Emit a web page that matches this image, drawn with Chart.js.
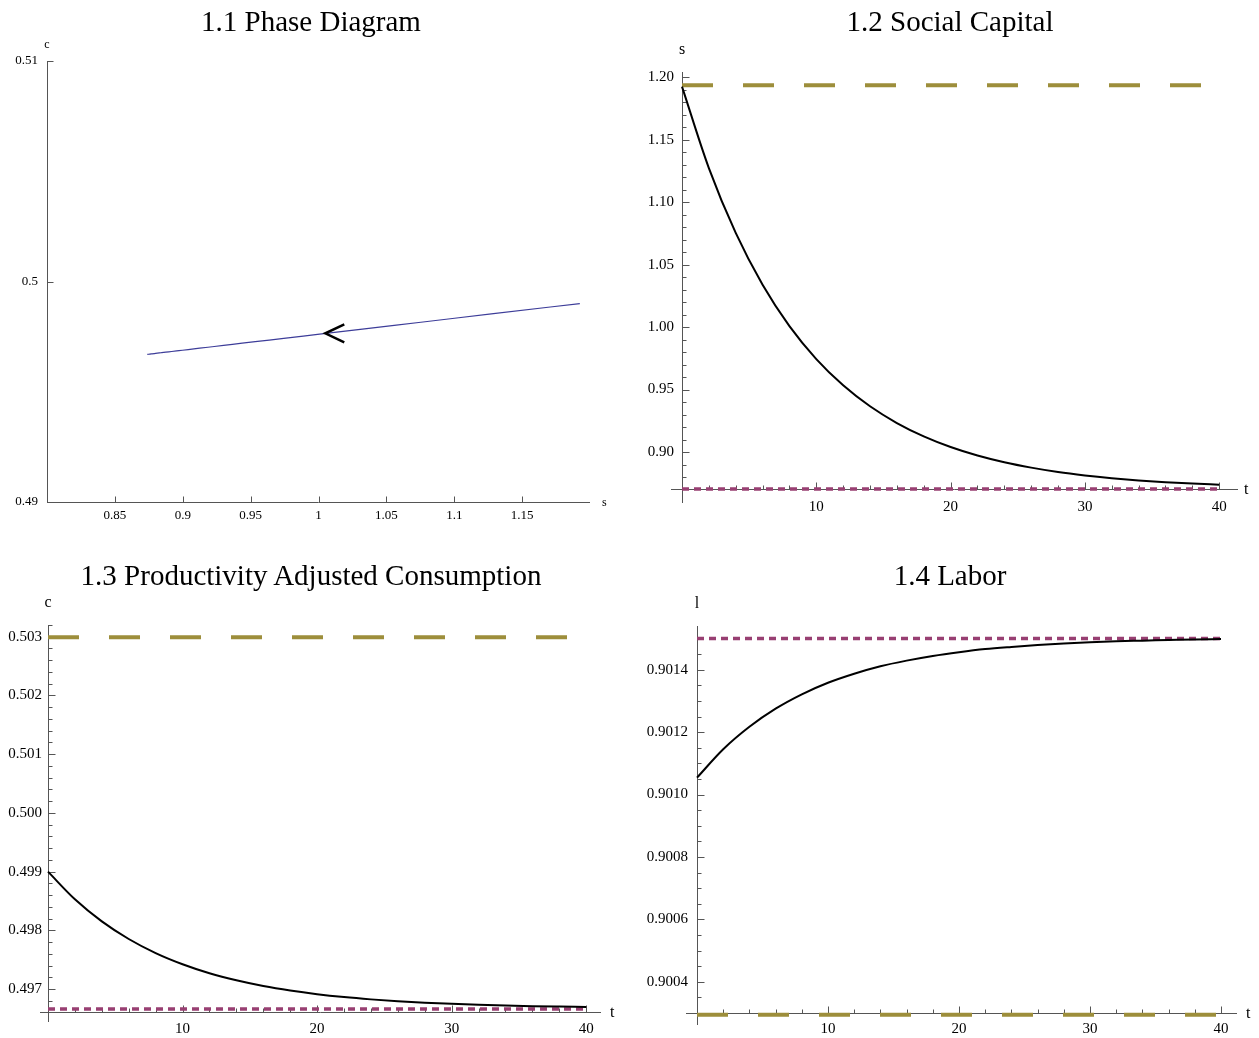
<!DOCTYPE html>
<html>
<head>
<meta charset="utf-8">
<script src="https://cdn.jsdelivr.net/npm/chart.js@4.4.1/dist/chart.umd.min.js"></script>
<style>
  body { margin: 0; background: #fff; width: 1259px; height: 1038px; position: relative; overflow: hidden; }
  .panel { position: absolute; }
  .title {
    position: absolute; width: 600px; text-align: center; white-space: nowrap;
    font-family: 'Liberation Serif', 'Times New Roman', serif; font-size: 29px; line-height: 34px; color: #000;
  }
</style>
</head>
<body>
<div class="panel" id="p1"><canvas id="phase"></canvas></div>
<div class="panel" id="p2"><canvas id="capital"></canvas></div>
<div class="panel" id="p3"><canvas id="consumption"></canvas></div>
<div class="panel" id="p4"><canvas id="labor"></canvas></div>
<script>
// DATA

const times = [0, 2, 4, 6, 8, 10, 12, 14, 16, 18, 20, 22, 24, 26, 28, 30, 32, 34, 36, 38, 40];
const socialCapital = [1.1925, 1.1273, 1.0754, 1.0339, 1.0008, 0.9744, 0.9534, 0.9366, 0.9232, 0.9125, 0.9040,
  0.8972, 0.8918, 0.8875, 0.8840, 0.8813, 0.8791, 0.8773, 0.8759, 0.8748, 0.8739];
const consumption = [0.49900, 0.498529, 0.498153, 0.497853, 0.497613, 0.497423, 0.497270, 0.497149, 0.497052,
  0.496975, 0.496913, 0.496864, 0.496825, 0.496793, 0.496768, 0.496749, 0.496733, 0.496720, 0.496710, 0.496702, 0.496695];
const labor = [0.901054, 0.901145, 0.901217, 0.901275, 0.901321, 0.901358, 0.901387, 0.901411, 0.901429, 0.901444,
  0.901456, 0.901466, 0.901473, 0.901479, 0.901484, 0.901488, 0.901491, 0.901493, 0.901495, 0.901497, 0.901498];

// horizontal reference lines (start / steady state levels)
const refTimes = [0, 40];
const capitalLevels = [1.1936, 0.8704];
const consumptionLevels = [0.50299, 0.49666];
const laborLevels = [0.900294, 0.90150];

// where the arrow sits on the phase path
const phaseArrow = [1.005, 0.49765];

// tick labels
const phaseSTicks = [0.85, 0.9, 0.95, 1, 1.05, 1.1, 1.15];
const phaseCTicks = [0.49, 0.5, 0.51];
const timeTicks = [10, 20, 30, 40];
const capitalTicks = [0.90, 0.95, 1.00, 1.05, 1.10, 1.15, 1.20];
const consumptionTicks = [0.497, 0.498, 0.499, 0.500, 0.501, 0.502, 0.503];
const laborTicks = [0.9004, 0.9006, 0.9008, 0.9010, 0.9012, 0.9014];

// STYLE

const FONT = "'Liberation Serif', 'Times New Roman', serif";
const AXIS_COLOR = '#555';
const GOLD = '#9d8e3b';
const PURPLE = '#983f72';
const X_H = 45;
const Y_W = 60;

Chart.defaults.font.family = FONT;
Chart.defaults.color = '#000';

const levelLine = (level, color, dash, width) => ({
  data: refTimes.map((t) => ({ x: t, y: level })),
  borderColor: color,
  borderWidth: width,
  borderDash: dash,
  borderCapStyle: 'butt',
  showLine: true,
  pointRadius: 0,
  clip: 8,
});

const curve = (xs, ys, color, width) => ({
  data: xs.map((x, i) => ({ x, y: ys[i] })),
  borderColor: color,
  borderWidth: width,
  showLine: true,
  pointRadius: 0,
  cubicInterpolationMode: 'monotone',
  clip: 4,
});

// Mathematica-style axes: lines through the origin, inward ticks, letters at the ends

const mathAxes = {
  id: 'mathAxes',
  beforeDatasetsDraw(chart, args, opts) {
    const { ctx, chartArea: a, scales } = chart;
    const x = scales.x;
    const y = scales.y;
    const ax = Math.round(a.left) + 0.5;
    const ay = Math.round(a.bottom) + 0.5;
    ctx.save();
    ctx.strokeStyle = AXIS_COLOR;
    ctx.lineWidth = 1;
    ctx.beginPath();
    ctx.moveTo(a.left - opts.xExtend, ay);
    ctx.lineTo(a.right, ay);
    ctx.moveTo(ax, a.top);
    ctx.lineTo(ax, a.bottom + opts.yExtend);
    ctx.stroke();

    const drawTicks = (scale, minorCount, mark) => {
      const majors = scale.ticks.map((t) => t.value);
      majors.forEach((v) => mark(scale.getPixelForValue(v), opts.majorLen));
      if (!minorCount) return;
      const step = majors[1] - majors[0];
      const minorStep = step / (minorCount + 1);
      for (let k = Math.ceil(scale.min / minorStep - 1e-9); k * minorStep <= scale.max + 1e-12; k++) {
        const v = k * minorStep;
        const r = v / step;
        if (Math.abs(r - Math.round(r)) < 1e-6) continue;
        mark(scale.getPixelForValue(v), opts.minorLen);
      }
    };

    ctx.beginPath();
    drawTicks(x, opts.xMinor, (p, len) => {
      const px = Math.round(p) + 0.5;
      ctx.moveTo(px, ay);
      ctx.lineTo(px, ay - len);
    });
    drawTicks(y, opts.yMinor, (p, len) => {
      const py = Math.round(p) + 0.5;
      ctx.moveTo(ax, py);
      ctx.lineTo(ax + len, py);
    });
    ctx.stroke();

    ctx.fillStyle = '#000';
    ctx.font = opts.letterSize + 'px ' + FONT;
    ctx.textAlign = 'center';
    ctx.textBaseline = 'middle';
    ctx.fillText(opts.yLetter, a.left, a.top - opts.yLetterGap);
    ctx.textAlign = 'left';
    ctx.fillText(opts.xLetter, a.right + opts.xLetterGap, a.bottom + 1);
    ctx.restore();
  },
  afterDatasetsDraw(chart, args, opts) {
    if (!opts.arrow) return;
    const { ctx, scales } = chart;
    const px = scales.x.getPixelForValue(opts.arrow[0]);
    const py = scales.y.getPixelForValue(opts.arrow[1]);
    ctx.save();
    ctx.strokeStyle = '#000';
    ctx.lineWidth = 2.5;
    ctx.lineJoin = 'miter';
    ctx.beginPath();
    ctx.moveTo(px + 19, py - 9);
    ctx.lineTo(px, py);
    ctx.lineTo(px + 19, py + 9);
    ctx.stroke();
    ctx.restore();
  },
};

const addTitle = (text, cx, cy) => {
  const el = document.createElement('div');
  el.className = 'title';
  el.textContent = text;
  el.style.left = (cx - 300) + 'px';
  el.style.top = (cy - 18) + 'px';
  document.body.appendChild(el);
};

// box: canvas rectangle on the page, area: wanted plot rectangle on the page
const makePanel = (canvasId, divId, box, area, cfg) => {
  const div = document.getElementById(divId);
  div.style.left = box.left + 'px';
  div.style.top = box.top + 'px';
  const canvas = document.getElementById(canvasId);
  canvas.width = box.width;
  canvas.height = box.height;

  const padding = {
    left: area.left - box.left - Y_W,
    right: box.left + box.width - area.right,
    top: area.top - box.top,
    bottom: box.top + box.height - area.bottom - X_H,
  };

  return new Chart(canvas, {
    type: 'scatter',
    data: { datasets: cfg.datasets },
    options: {
      responsive: false,
      animation: false,
      devicePixelRatio: 1,
      layout: { padding },
      plugins: {
        legend: { display: false },
        tooltip: { enabled: false },
        title: { display: false },
        mathAxes: cfg.axes,
      },
      scales: {
        x: {
          type: 'linear',
          min: cfg.xRange[0],
          max: cfg.xRange[1],
          grid: { display: false, drawTicks: false },
          border: { display: false },
          afterFit: (s) => { s.height = X_H; },
          afterBuildTicks: (s) => { s.ticks = cfg.xTicks.map((v) => ({ value: v })); },
          ticks: {
            autoSkip: false,
            maxRotation: 0,
            padding: cfg.xPad,
            font: { size: cfg.fontSize },
            callback: (v) => cfg.xFormat(v),
          },
        },
        y: {
          type: 'linear',
          min: cfg.yRange[0],
          max: cfg.yRange[1],
          grid: { display: false, drawTicks: false },
          border: { display: false },
          afterFit: (s) => { s.width = Y_W; },
          afterBuildTicks: (s) => { s.ticks = cfg.yTicks.map((v) => ({ value: v })); },
          ticks: {
            autoSkip: false,
            padding: cfg.yPad,
            font: { size: cfg.fontSize },
            callback: (v) => cfg.yFormat(v),
          },
        },
      },
    },
    plugins: [mathAxes],
  });
};

const plain = (v) => String(v);
const fixed = (n) => (v) => Number(v).toFixed(n);

// 1.1 PHASE DIAGRAM

addTitle('1.1 Phase Diagram', 311, 22);
makePanel('phase', 'p1',
  { left: -20, top: 0, width: 650, height: 560 },
  { left: 47, top: 61, right: 590, bottom: 502 }, {
    datasets: [curve(socialCapital, consumption, '#3d3d99', 1.2)],
    xRange: [0.8, 1.2], yRange: [0.49, 0.51],
    xTicks: phaseSTicks, yTicks: phaseCTicks,
    xFormat: plain, yFormat: plain,
    fontSize: 13, xPad: 6, yPad: 9,
    axes: { xExtend: 0, yExtend: 0, xMinor: 0, yMinor: 0, majorLen: 6, minorLen: 0,
      xLetter: 's', yLetter: 'c', letterSize: 12, xLetterGap: 12, yLetterGap: 16, arrow: phaseArrow },
  });

// 1.2 SOCIAL CAPITAL

addTitle('1.2 Social Capital', 950, 22);
makePanel('capital', 'p2',
  { left: 610, top: 0, width: 649, height: 560 },
  { left: 682, top: 72, right: 1238, bottom: 489 }, {
    datasets: [
      curve(times, socialCapital, '#000', 2),
      levelLine(capitalLevels[1], PURPLE, [7, 5], 3.5),
      levelLine(capitalLevels[0], GOLD, [31, 30], 4),
    ],
    xRange: [0, 41.4], yRange: [0.8704, 1.2042],
    xTicks: timeTicks, yTicks: capitalTicks,
    xFormat: plain, yFormat: fixed(2),
    fontSize: 15, xPad: 9, yPad: 8,
    axes: { xExtend: 11, yExtend: 14, xMinor: 4, yMinor: 4, majorLen: 7, minorLen: 4,
      xLetter: 't', yLetter: 's', letterSize: 16, xLetterGap: 6, yLetterGap: 22 },
  });

// 1.3 PRODUCTIVITY ADJUSTED CONSUMPTION

addTitle('1.3 Productivity Adjusted Consumption', 311, 576);
makePanel('consumption', 'p3',
  { left: -20, top: 540, width: 650, height: 520 },
  { left: 48, top: 625, right: 601, bottom: 1012 }, {
    datasets: [
      curve(times, consumption, '#000', 2),
      levelLine(consumptionLevels[1], PURPLE, [7, 5], 3.5),
      levelLine(consumptionLevels[0], GOLD, [31, 30], 4),
    ],
    xRange: [0, 41.1], yRange: [0.49661, 0.50320],
    xTicks: timeTicks, yTicks: consumptionTicks,
    xFormat: plain, yFormat: fixed(3),
    fontSize: 15, xPad: 8, yPad: 6,
    axes: { xExtend: 8, yExtend: 10, xMinor: 4, yMinor: 4, majorLen: 7, minorLen: 4,
      xLetter: 't', yLetter: 'c', letterSize: 16, xLetterGap: 9, yLetterGap: 22 },
  });

// 1.4 LABOR

addTitle('1.4 Labor', 950, 576);
makePanel('labor', 'p4',
  { left: 610, top: 540, width: 649, height: 520 },
  { left: 697, top: 626, right: 1237, bottom: 1013 }, {
    datasets: [
      curve(times, labor, '#000', 2),
      levelLine(laborLevels[1], PURPLE, [7, 5], 3.5),
      levelLine(laborLevels[0], GOLD, [31, 30], 4),
    ],
    xRange: [0, 41.22], yRange: [0.9003, 0.90154],
    xTicks: timeTicks, yTicks: laborTicks,
    xFormat: plain, yFormat: fixed(4),
    fontSize: 15, xPad: 7, yPad: 9,
    axes: { xExtend: 11, yExtend: 12, xMinor: 4, yMinor: 3, majorLen: 7, minorLen: 4,
      xLetter: 't', yLetter: 'l', letterSize: 16, xLetterGap: 9, yLetterGap: 22 },
  });
</script>
</body>
</html>
